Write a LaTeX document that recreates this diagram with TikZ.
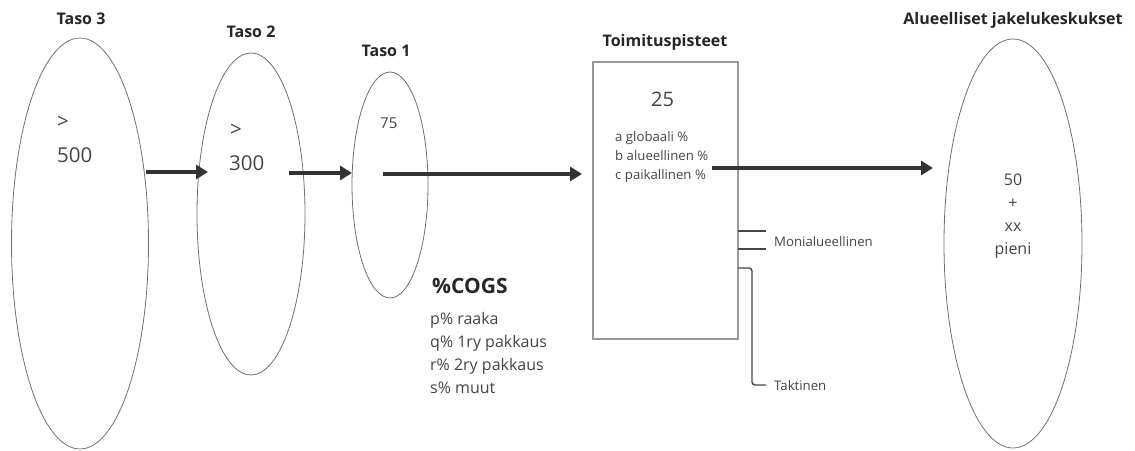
\documentclass[tikz,border=0pt]{standalone}
\usepackage{fontspec}
\setmainfont{Open Sans}
\usetikzlibrary{shapes.geometric,arrows.meta}

\definecolor{inkdark}{HTML}{262626}
\definecolor{inktext}{HTML}{444444}
\definecolor{arrowgray}{HTML}{333333}
\definecolor{rimgray}{HTML}{707070}
\definecolor{boxgray}{HTML}{9A9A9A}

\tikzset{
  tier/.style={ellipse, draw=rimgray, line width=0.8pt, inner sep=0pt},
  hub/.style={rectangle, draw=boxgray, line width=1.3pt, inner sep=0pt},
  flow/.style={draw=arrowgray, line width=3.8pt, -{Triangle[length=12pt,width=14pt]}},
  branch/.style={draw=arrowgray!90, line width=1.4pt},
  heading/.style={inner sep=0pt, text=inkdark, anchor=base,
    font=\fontsize{16}{18}\selectfont\bfseries},
  bignum/.style={inner sep=0pt, text=inktext, anchor=base west,
    font=\fontsize{20.5}{24}\selectfont},
  note/.style={inner sep=0pt, text=inktext, anchor=base west,
    font=\fontsize{13.2}{16}\selectfont},
  listline/.style={inner sep=0pt, text=inktext, anchor=base west,
    font=\fontsize{16}{18}\selectfont},
}

\begin{document}
\begin{tikzpicture}[x=1pt, y=-1pt]
  \useasboundingbox (0,0) rectangle (1135,450);

  % tiers and distribution points
  \node[tier, minimum width=137pt, minimum height=411pt] (t3) at (80,243.5) {};
  \node[tier, minimum width=108pt, minimum height=322pt] (t2) at (251,214) {};
  \node[tier, minimum width=76pt,  minimum height=226pt] (t1) at (390,185) {};
  \node[hub,  minimum width=145pt, minimum height=277pt] (box) at (665.5,200.5) {};
  \node[tier, minimum width=138pt, minimum height=409pt] (jk) at (1013,243.5) {};

  % headings
  \node[heading] (h3) at (81,24) {Taso 3};
  \node[heading] (h2) at (251,37) {Taso 2};
  \node[heading] (h1) at (386,56) {Taso 1};
  \node[heading] (hb) at (665,46.5) {Toimituspisteet};
  \node[heading] (hj) at (1013,24) {Alueelliset jakelukeskukset};

  % contents of the tiers
  \node[bignum] (gt3) at (57,128) {>};
  \node[bignum] (n3)  at (57,162.5) {500};
  \node[bignum] (gt2) at (230,136) {>};
  \node[bignum] (n2)  at (229,170.5) {300};
  \node[inner sep=0pt, text=inktext, anchor=base west,
        font=\fontsize{15}{18}\selectfont] (n1) at (380,128.5) {75};

  % contents of the box
  \node[inner sep=0pt, text=inktext, anchor=base,
        font=\fontsize{20}{24}\selectfont] (nb) at (662.5,106.5) {25};
  \node[note] (ba) at (615,141.5) {a globaali \%};
  \node[note] (bb) at (615,160.5) {b alueellinen \%};
  \node[note] (bc) at (615,179.5) {c paikallinen \%};

  % cost breakdown
  \node[inner sep=0pt, text=inkdark, anchor=base west,
        font=\fontsize{21}{24}\selectfont\bfseries] (cogs) at (432,293) {\%COGS};
  \node[listline] (cp) at (430,324.5) {p\% raaka};
  \node[listline] (cq) at (430,347.5) {q\% 1ry pakkaus};
  \node[listline] (cr) at (430,370.5) {r\% 2ry pakkaus};
  \node[listline] (cs) at (430,393.5) {s\% muut};

  % contents of the regional centres
  \node[inner sep=0pt, text=inktext, anchor=base,
        font=\fontsize{16}{19}\selectfont] (j1) at (1013,185) {50};
  \node[inner sep=0pt, text=inktext, anchor=base,
        font=\fontsize{16}{19}\selectfont] (j2) at (1013,208) {+};
  \node[inner sep=0pt, text=inktext, anchor=base,
        font=\fontsize{16}{19}\selectfont] (j3) at (1013,231) {xx};
  \node[inner sep=0pt, text=inktext, anchor=base,
        font=\fontsize{16}{19}\selectfont] (j4) at (1013,254) {pieni};

  % flow arrows between the stages
  \coordinate (a1s) at (146,172);  \coordinate (a1e) at (208,172);
  \coordinate (a2s) at (289,173);  \coordinate (a2e) at (352,173);
  \coordinate (a3s) at (383,174);  \coordinate (a3e) at (582,174);
  \coordinate (a4s) at (712,168);  \coordinate (a4e) at (933,168);
  \draw[flow] (a1s) -- (a1e);
  \draw[flow] (a2s) -- (a2e);
  \draw[flow] (a3s) -- (a3e);
  \draw[flow] (a4s) -- (a4e);

  % side branches of the box
  \coordinate (m1s) at (738,231); \coordinate (m1e) at (766,231);
  \coordinate (m2s) at (738,249); \coordinate (m2e) at (766,249);
  \draw[branch] (m1s) -- (m1e);
  \draw[branch] (m2s) -- (m2e);
  \node[note] (mon) at (774,246) {Monialueellinen};

  \coordinate (k0) at (738,268);
  \coordinate (k1) at (752,268);
  \coordinate (k2) at (752,385);
  \coordinate (k3) at (766,385);
  \draw[branch, rounded corners=3pt] (k0) -- (k1) -- (k2) -- (k3);
  \node[note] (tak) at (774,390.5) {Taktinen};
\end{tikzpicture}
\end{document}
